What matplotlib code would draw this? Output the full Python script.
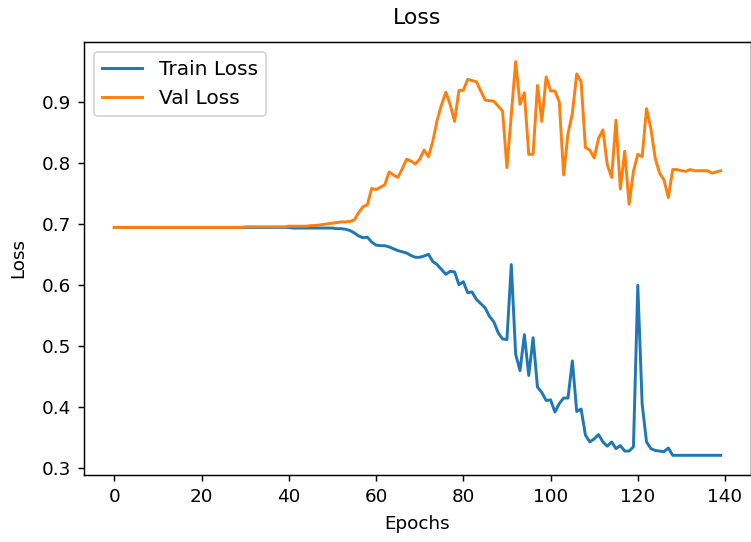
import matplotlib
matplotlib.use("Agg")
import matplotlib.pyplot as plt
import numpy as np

epochs = list(range(140))

train_loss = ([0.694] * 41 + [0.693] * 10 +
    [0.692, 0.692, 0.691, 0.689, 0.685, 0.680, 0.677, 0.678, 0.670,
     0.665, 0.664, 0.664, 0.662, 0.659, 0.656, 0.654, 0.652, 0.648, 0.645,
     0.645, 0.647, 0.650, 0.638, 0.633, 0.625, 0.617, 0.622, 0.621, 0.600,
     0.605, 0.587, 0.588, 0.576, 0.569, 0.562, 0.548, 0.539, 0.521, 0.511,
     0.510, 0.633, 0.486, 0.459, 0.518, 0.451, 0.513, 0.432, 0.423, 0.410,
     0.411, 0.391, 0.405, 0.414, 0.414, 0.475, 0.392, 0.396, 0.353, 0.342,
     0.347, 0.354, 0.342, 0.335, 0.342, 0.331, 0.336, 0.327, 0.327, 0.334,
     0.599, 0.404, 0.342, 0.331, 0.328, 0.327, 0.326, 0.332] +
    [0.320] * 12)

val_loss = ([0.694] * 30 + [0.695] * 10 + [0.696] * 5 +
    [0.697, 0.697, 0.698, 0.699, 0.700, 0.701, 0.702, 0.703, 0.703, 0.704,
     0.706, 0.718, 0.728, 0.731, 0.758, 0.756, 0.760, 0.764, 0.785, 0.780,
     0.776, 0.790, 0.806, 0.803, 0.798, 0.806, 0.821, 0.810, 0.835, 0.870,
     0.895, 0.916, 0.895, 0.868, 0.919, 0.919, 0.937, 0.935, 0.933, 0.918,
     0.903, 0.902, 0.901, 0.893, 0.885, 0.792, 0.880, 0.966, 0.896, 0.915,
     0.814, 0.814, 0.927, 0.868, 0.941, 0.918, 0.918, 0.900, 0.780, 0.848,
     0.881, 0.946, 0.933, 0.825, 0.821, 0.808, 0.840, 0.854, 0.797, 0.776,
     0.870, 0.757, 0.819, 0.732, 0.786, 0.814, 0.810, 0.889, 0.856, 0.807,
     0.783, 0.772, 0.743, 0.789, 0.789, 0.787, 0.786, 0.789, 0.787, 0.787,
     0.787, 0.787, 0.783, 0.785, 0.787])

dpi = 132
fig = plt.figure(figsize=(751 / dpi, 542 / dpi), dpi=dpi)
ax = fig.add_axes([84 / 751, 1 - 475 / 542, 667 / 751, 433 / 542])
ax.plot(epochs, train_loss, label="Train Loss", linewidth=1.6)
ax.plot(epochs, val_loss, label="Val Loss", linewidth=1.6)
ax.set_title("Loss", pad=10)
ax.set_xlabel("Epochs", labelpad=5)
ax.set_ylabel("Loss", labelpad=8)
ax.set_xticks([0, 20, 40, 60, 80, 100, 120, 140])
ax.legend(loc="upper left", fontsize=11)
fig.savefig("out.png", dpi=dpi)
